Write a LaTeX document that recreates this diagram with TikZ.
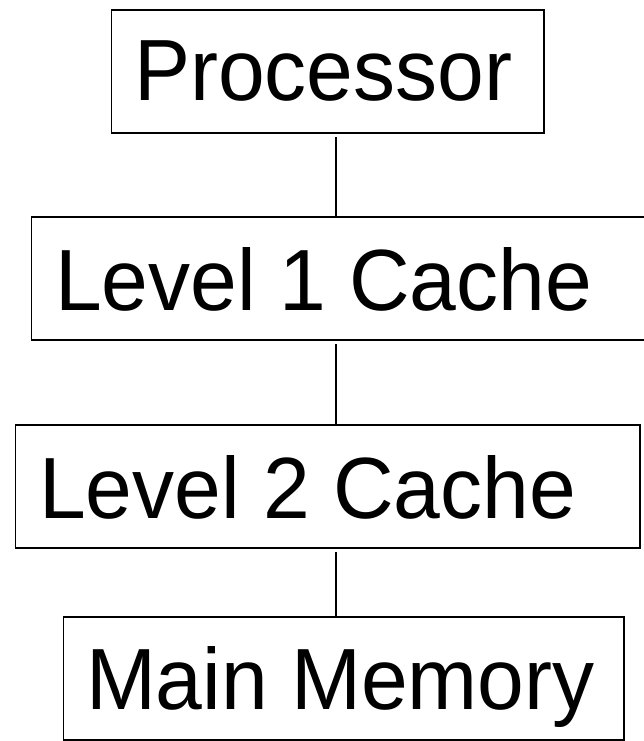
\documentclass[tikz,border=0pt]{standalone}
\usepackage{fontspec}
\setmainfont{Liberation Sans}
\begin{document}
\begin{tikzpicture}[x=1pt,y=-1pt,
  box/.style={draw=black,line width=1.6pt,rectangle,inner sep=0pt,outer sep=0pt},
  lbl/.style={inner sep=0pt,outer sep=0pt,anchor=base west,yscale=1.035,transform shape,font=\fontsize{84}{84}\selectfont},
  link/.style={draw=black,line width=1.6pt}]
\useasboundingbox (0,0) rectangle (644,741);
\node[box,minimum width=432.5pt,minimum height=123pt] (proc) at (327.75,71.5) {};
\node[box,minimum width=614.5pt,minimum height=123pt] (l1) at (338.75,278.5) {};
\node[box,minimum width=624.5pt,minimum height=123pt] (l2) at (327.75,486.5) {};
\node[box,minimum width=560.5pt,minimum height=123pt] (mm) at (343.75,678.5) {};
\node[lbl] (tproc) at (134,101) {Processor};
\node[lbl] (tl1) at (55,310) {Level 1 Cache};
\node[lbl] (tl2) at (39,518) {Level 2 Cache};
\node[lbl] (tmm) at (86,709.5) {Main Memory};
\coordinate (spine) at (336,0);
\draw[link,shorten <=4pt] (proc.south -| spine) -- (l1.north -| spine);
\draw[link,shorten <=4pt] (l1.south -| spine) -- (l2.north -| spine);
\draw[link,shorten <=4pt] (l2.south -| spine) -- (mm.north -| spine);
\end{tikzpicture}
\end{document}
